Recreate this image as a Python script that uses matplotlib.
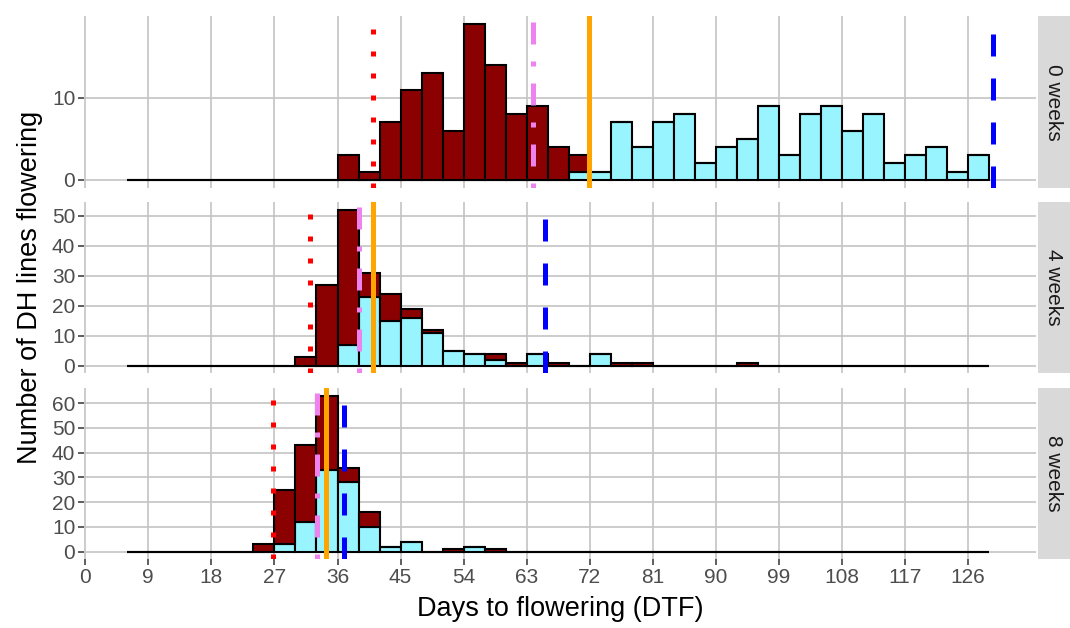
import numpy as np
import matplotlib
matplotlib.use("Agg")
import matplotlib.pyplot as plt
from matplotlib.ticker import MultipleLocator

plt.rcParams["font.family"] = ["Liberation Sans", "DejaVu Sans"]

# histogram bins (left edges, width 3 days)
bin_width = 3
bin_left = np.arange(6, 129, bin_width)
x_ticks = [0, 9, 18, 27, 36, 45, 54, 63, 72, 81, 90, 99, 108, 117, 126]

panels = ["0 weeks", "4 weeks", "8 weeks"]

# total number of lines per bin (height of the whole bar)
total_0wk = [0, 0, 0, 0, 0, 0, 0, 0, 0, 0,
             3, 1, 7, 11, 13, 6, 19, 14, 8, 9, 4, 3,
             1, 7, 4, 7, 8, 2, 4, 5, 9, 3, 8, 9, 6, 8, 2, 3, 4, 1, 3]
total_4wk = [0, 0, 0, 0, 0, 0, 0, 0,
             3, 27, 52, 31, 24, 19, 12, 5, 4, 4, 1, 4, 1, 0, 4, 1, 1,
             0, 0, 0, 0, 1, 0, 0, 0, 0, 0, 0, 0, 0, 0, 0, 0]
total_8wk = [0, 0, 0, 0, 0, 0,
             3, 25, 43, 63, 34, 16, 2, 4, 0, 1, 2, 1,
             0, 0, 0, 0, 0, 0, 0, 0, 0, 0, 0, 0, 0, 0, 0, 0, 0, 0, 0, 0, 0, 0, 0]

# lines in the second (light blue) group, stacked at the bottom
cyan_0wk = [0, 0, 0, 0, 0, 0, 0, 0, 0, 0,
            0, 0, 0, 0, 0, 0, 0, 0, 0, 0, 0, 1,
            1, 7, 4, 7, 8, 2, 4, 5, 9, 3, 8, 9, 6, 8, 2, 3, 4, 1, 3]
cyan_4wk = [0, 0, 0, 0, 0, 0, 0, 0,
            0, 0, 7, 23, 15, 16, 11, 5, 4, 2, 0, 4, 0, 0, 4, 0, 0,
            0, 0, 0, 0, 0, 0, 0, 0, 0, 0, 0, 0, 0, 0, 0, 0]
cyan_8wk = [0, 0, 0, 0, 0, 0,
            0, 3, 12, 33, 28, 10, 2, 4, 0, 0, 2, 0,
            0, 0, 0, 0, 0, 0, 0, 0, 0, 0, 0, 0, 0, 0, 0, 0, 0, 0, 0, 0, 0, 0, 0]

# reference lines per panel
red_line = [41.1, 32.1, 26.8]
violet_line = [63.9, 39.05, 33.05]
orange_line = [71.9, 41.05, 34.3]
blue_line = [129.5, 65.6, 36.9]

totals = [total_0wk, total_4wk, total_8wk]
cyans = [cyan_0wk, cyan_4wk, cyan_8wk]

W, H = 1070, 628
fig = plt.figure(figsize=(W / 100, H / 100), dpi=100)

panel_left, panel_right = 84, 1036
panel_tops = [16.3, 202.2, 388.1]
panel_h = 171.2

grid_col = "#C4C4C4"
text_col = "#4D4D4D"

# x range as ggplot would train it (bars + vlines), expanded by 5 %
x_lo = min(bin_left[0], min(red_line))
x_hi = max(bin_left[-1] + bin_width, max(blue_line))
x_pad = 0.05 * (x_hi - x_lo)

for i, name in enumerate(panels):
    top = panel_tops[i]
    ax = fig.add_axes([panel_left / W, 1 - (top + panel_h) / H,
                       (panel_right - panel_left) / W, panel_h / H])
    tot = np.array(totals[i])
    cy = np.array(cyans[i])

    ax.bar(bin_left, cy, width=bin_width, align="edge", color="#98F5FF",
           edgecolor="black", linewidth=1.5, zorder=2)
    ax.bar(bin_left, tot - cy, bottom=cy, width=bin_width, align="edge",
           color="#8B0000", edgecolor="black", linewidth=1.5, zorder=2)

    lw = 3.6
    l1 = ax.axvline(red_line[i], color="red", lw=lw, zorder=3)
    l1.set_dashes((1, 3.4))
    l2 = ax.axvline(violet_line[i], color="violet", lw=lw, zorder=3)
    l2.set_dashes((1, 3.4, 4.4, 3.4))
    ax.axvline(orange_line[i], color="orange", lw=lw, zorder=3)
    l4 = ax.axvline(blue_line[i], color="blue", lw=lw, zorder=3)
    l4.set_dashes((4.4, 4.4))

    ymax = tot.max()
    ax.set_ylim(-0.05 * ymax, 1.05 * ymax)
    ax.yaxis.set_major_locator(MultipleLocator(10))
    ax.set_xticks(x_ticks)
    ax.set_xlim(x_lo - x_pad, x_hi + x_pad)

    ax.grid(True, color=grid_col, linewidth=1.2, zorder=0)
    ax.set_axisbelow(True)
    for s in ax.spines.values():
        s.set_visible(False)
    ax.tick_params(axis="y", length=4.3, width=1.1, color="#333333",
                   labelsize=15, labelcolor=text_col, pad=2)
    if i < 2:
        ax.tick_params(axis="x", length=0, labelbottom=False)
    else:
        ax.tick_params(axis="x", length=4.3, width=1.1, color="#333333",
                       labelsize=15, labelcolor=text_col, pad=2)

    # facet strip on the right
    sax = fig.add_axes([1037.5 / W, 1 - (top + panel_h) / H,
                        (W - 1037.5) / W, panel_h / H])
    sax.set_facecolor("#D9D9D9")
    sax.set_xticks([])
    sax.set_yticks([])
    for s in sax.spines.values():
        s.set_visible(False)
    sax.text(0.5, 0.5, name, rotation=270, ha="center", va="center",
             fontsize=15, color="#1A1A1A", transform=sax.transAxes)

fig.text(0.028, 1 - (16.3 + 559.3) / 2 / H, "Number of DH lines flowering",
         rotation=90, ha="center", va="center", fontsize=19.5, color="black")
fig.text((panel_left + panel_right) / 2 / W, 1 - 609 / H,
         "Days to flowering (DTF)", ha="center", va="center",
         fontsize=19.5, color="black")

fig.savefig("out.png", dpi=100)
